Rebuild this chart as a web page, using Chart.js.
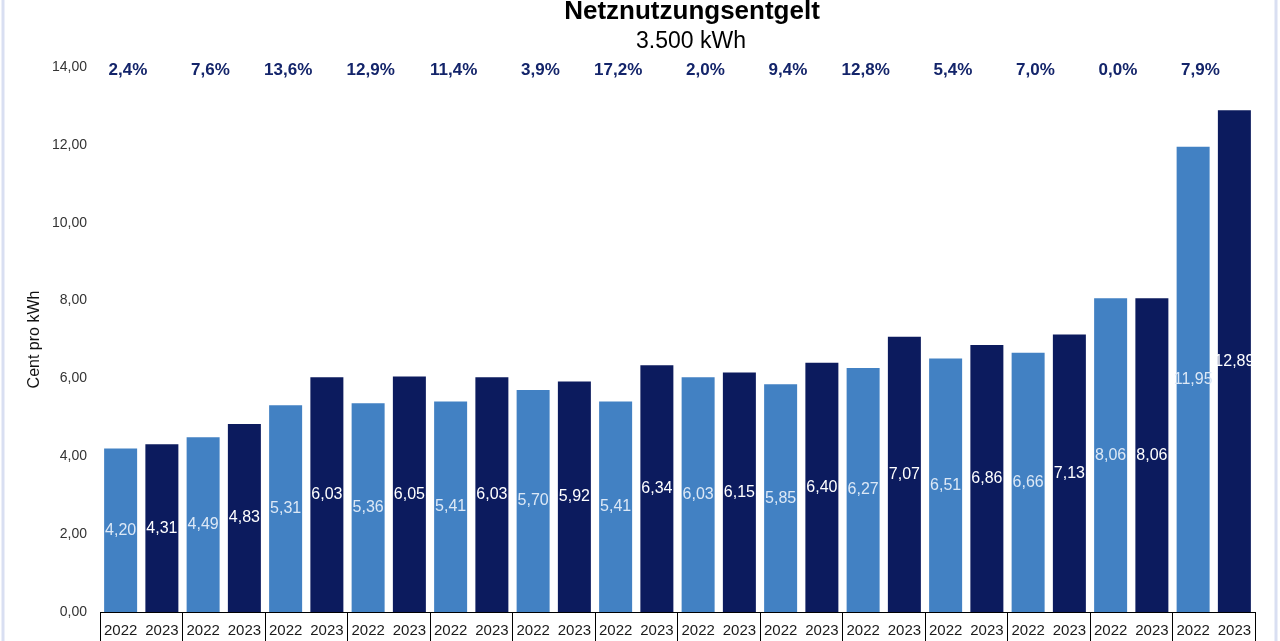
<!DOCTYPE html>
<html lang="de">
<head>
<meta charset="utf-8">
<title>Netznutzungsentgelt</title>
<script src="https://cdn.jsdelivr.net/npm/chart.js@4.4.0/dist/chart.umd.min.js"></script>
<style>
    html, body { margin: 0; padding: 0; background: #fff; }
    #wrap { position: relative; width: 1280px; height: 641px; }
</style>
</head>
<body>
<div id="wrap"><canvas id="chart"></canvas></div>
<script>
// --- Données ---
const groups     = ['1', '2', '3', '4', '5', '6', '7', '8', '9', '10', '11', '12', '13', '14'];
const years      = ['2022', '2023'];
const values2022 = [4.20, 4.49, 5.31, 5.36, 5.41, 5.70, 5.41, 6.03, 5.85, 6.27, 6.51, 6.66, 8.06, 11.95];
const values2023 = [4.31, 4.83, 6.03, 6.05, 6.03, 5.92, 6.34, 6.15, 6.40, 7.07, 6.86, 7.13, 8.06, 12.89];
const changes    = [2.4, 7.6, 13.6, 12.9, 11.4, 3.9, 17.2, 2.0, 9.4, 12.8, 5.4, 7.0, 0.0, 7.9];
const yTicks     = [0, 2, 4, 6, 8, 10, 12, 14];
const titleText    = 'Netznutzungsentgelt';
const subtitleText = '3.500 kWh';

const FONT = "'Liberation Sans', Arial, sans-serif";
const fmt = (v, d) => v.toFixed(d).replace('.', ',');

// --- Plugin : fond, cadre, titres, libellés ---
const decorPlugin = {
    id: 'decor',
    beforeDraw(chart) {
        const { ctx, width, height } = chart;
        ctx.save();
        ctx.fillStyle = '#fff';
        ctx.fillRect(0, 0, width, height);
        ctx.strokeStyle = '#d9dff2';
        ctx.lineWidth = 3;
        ctx.beginPath();
        ctx.moveTo(3, 0); ctx.lineTo(3, height);
        ctx.moveTo(width - 4, 0); ctx.lineTo(width - 4, height);
        ctx.stroke();

        // titres
        ctx.fillStyle = '#000';
        ctx.textAlign = 'center';
        ctx.textBaseline = 'middle';
        ctx.font = `bold 26px ${FONT}`;
        ctx.fillText(titleText, 692, 12);
        ctx.font = `23px ${FONT}`;
        ctx.fillText(subtitleText, 691, 42);
        ctx.restore();
    },
    afterDatasetsDraw(chart) {
        const { ctx } = chart;
        const x = chart.scales.x;

        ctx.save();

        // valeurs au centre des barres
        ctx.font = `16px ${FONT}`;
        ctx.textAlign = 'center';
        ctx.textBaseline = 'middle';
        chart.data.datasets.forEach((ds, di) => {
            const meta = chart.getDatasetMeta(di);
            ctx.fillStyle = di === 0 ? '#dce8f6' : '#ffffff';
            meta.data.forEach((bar, i) => {
                ctx.fillText(fmt(ds.data[i], 2), bar.x, (bar.y + bar.base) / 2);
            });
        });

        // années sous l'axe
        ctx.font = `15px ${FONT}`;
        ctx.fillStyle = '#1a1a1a';
        chart.data.datasets.forEach((ds, di) => {
            chart.getDatasetMeta(di).data.forEach(bar => {
                ctx.fillText(ds.label, bar.x, 631);
            });
        });

        // variations en haut
        ctx.font = `bold 17px ${FONT}`;
        ctx.fillStyle = '#13246a';
        ctx.textAlign = 'right';
        groups.forEach((g, i) => {
            ctx.fillText(fmt(changes[i], 1) + '%', x.getPixelForValue(i) + 6, 70);
        });

        ctx.restore();
    }
};

new Chart(document.getElementById('chart'), {
    type: 'bar',
    data: {
        labels: groups,
        datasets: [
            { label: years[0], data: values2022, backgroundColor: '#4281c3' },
            { label: years[1], data: values2023, backgroundColor: '#0c1b5e' }
        ]
    },
    options: {
        responsive: true,
        maintainAspectRatio: false,
        animation: false,
        events: [],
        layout: { padding: { left: 0, right: 25, top: 67, bottom: 0 } },
        datasets: { bar: { categoryPercentage: 1.0, barPercentage: 0.8 } },
        plugins: {
            legend: { display: false },
            tooltip: { enabled: false },
            title: { display: false }
        },
        scales: {
            x: {
                grid: {
                    display: true,
                    offset: true,
                    drawOnChartArea: false,
                    drawTicks: true,
                    tickLength: 29,
                    color: '#000',
                    lineWidth: 1
                },
                border: { display: true, color: '#000', width: 1 },
                ticks: { display: false }
            },
            y: {
                min: 0,
                max: 14,
                afterBuildTicks(scale) {
                    scale.ticks = yTicks.map(v => ({ value: v }));
                },
                afterFit(scale) { scale.width = 100; },
                grid: { display: false },
                border: { display: false },
                ticks: {
                    color: '#333',
                    padding: 5,
                    font: { family: FONT, size: 14 },
                    callback: v => fmt(v, 2)
                },
                title: {
                    display: true,
                    text: 'Cent pro kWh',
                    color: '#111',
                    font: { family: FONT, size: 16 },
                    padding: { top: 25, bottom: 0 }
                }
            }
        }
    },
    plugins: [decorPlugin]
});
</script>
</body>
</html>
